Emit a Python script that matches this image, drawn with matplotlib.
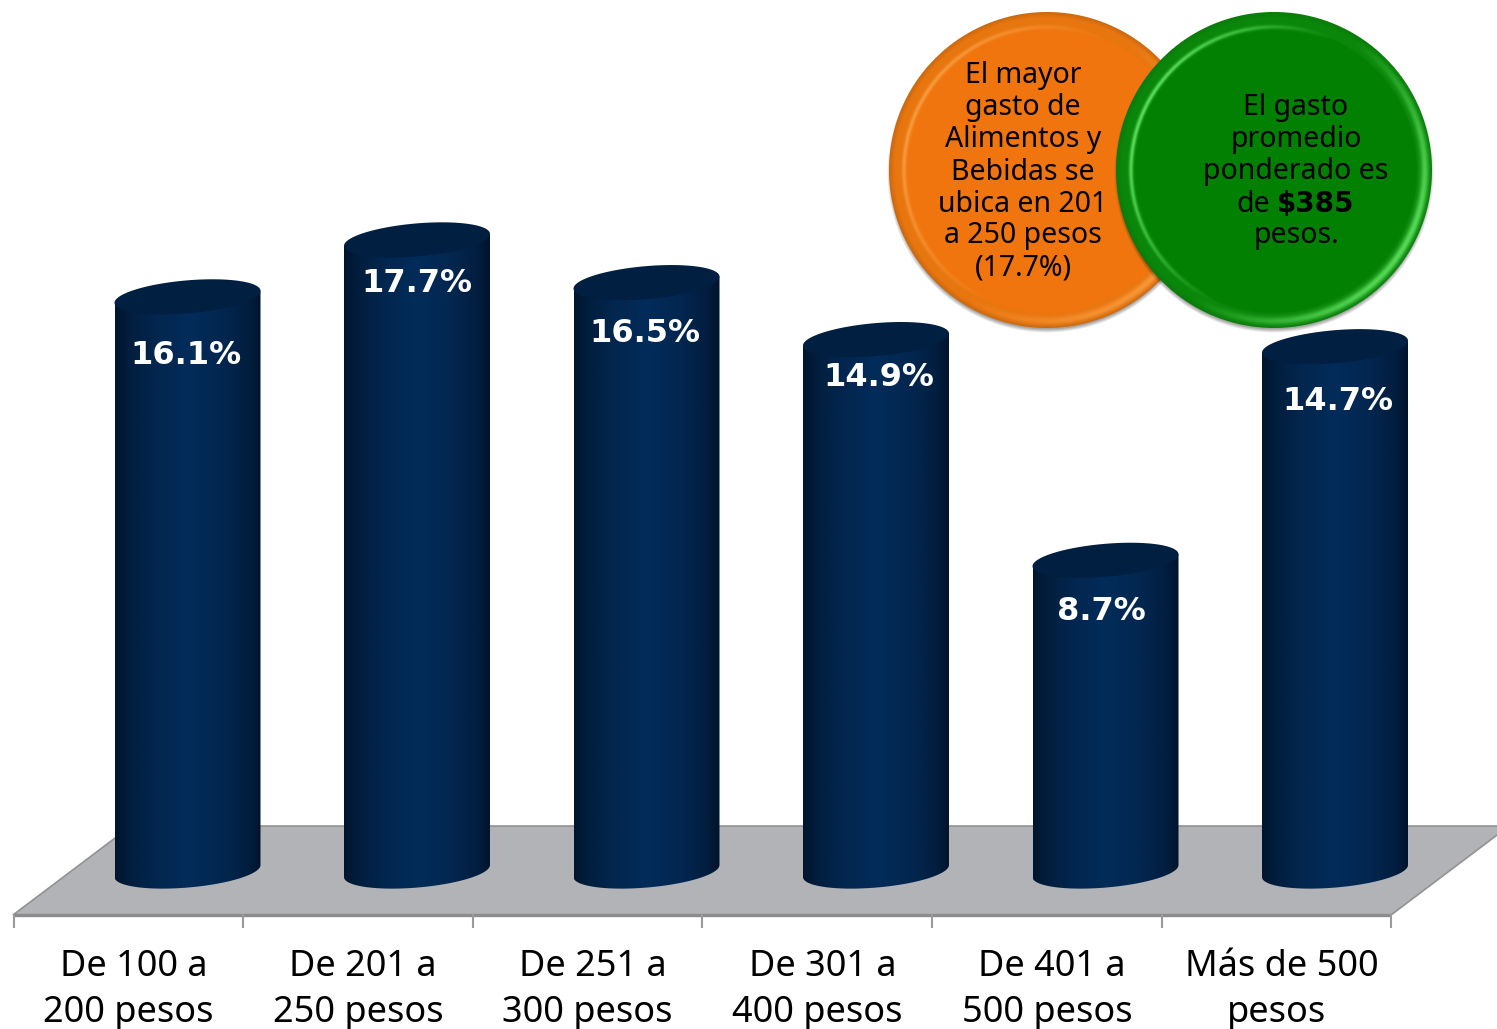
import numpy as np
import matplotlib
matplotlib.use('Agg')
import matplotlib.pyplot as plt
from matplotlib.colors import LinearSegmentedColormap
from matplotlib.patches import Polygon, PathPatch
from matplotlib.path import Path

cats1  = ['De 100 a', 'De 201 a', 'De 251 a', 'De 301 a', 'De 401 a', 'Más de 500']
cats2  = ['200 pesos', '250 pesos', '300 pesos', '400 pesos', '500 pesos', 'pesos']
values = [16.1, 17.7, 16.5, 14.9, 8.7, 14.7]
# where the value labels sit, in pixels
lab_x  = [186, 417, 645, 879, 1101, 1338]
lab_y  = [355, 283, 333, 377, 612, 402]

orange_txt = ['El mayor', 'gasto de', 'Alimentos y', 'Bebidas se', 'ubica en 201', 'a 250 pesos', '(17.7%)']
green_txt  = ['El gasto', 'promedio', 'ponderado es', None, 'pesos.']

W, H = 1497, 1029
FONT = 'Noto Sans'
x0, dx = 187.5, 229.5      # px of first bar, px per category
y0, dy = 870.0, 35.6       # px of value 0, px per percent
hw, sk, el = 73.0, 6.0, 16.5

fig = plt.figure(figsize=(W/100, H/100), dpi=100)
fig.patch.set_facecolor('white')

# background axes in pixels: floor, ticks, category labels
bg = fig.add_axes([0, 0, 1, 1], zorder=0)
bg.set_xlim(0, W); bg.set_ylim(H, 0); bg.axis('off')
bg.add_patch(Polygon([(13, 915), (131, 826), (1509, 826), (1391, 915)], closed=True,
                     facecolor='#b1b3b6', edgecolor='#929292', lw=1.2))
bg.plot([13, 1391], [915, 915], color='#8c8c8c', lw=2.4, solid_capstyle='butt')
for i in range(7):
    tx = 13.5 + i*229.6
    bg.plot([tx, tx], [915, 927], color='#9a9a9a', lw=1.5)
for i in range(6):
    mid = 128.5 + i*229.6
    bg.text(mid+5, 967, cats1[i], ha='center', va='center', fontsize=26, family=FONT, color='black')
    bg.text(mid, 1013, cats2[i], ha='center', va='center', fontsize=26, family=FONT, color='black')

# the bars, in category / percent units
ax = fig.add_axes([0, 0, 1, 1], zorder=1)
ax.set_xlim(-x0/dx, (W-x0)/dx)
ax.set_ylim((y0-H)/dy, y0/dy)
ax.axis('off')
ax.patch.set_alpha(0)

cyl = LinearSegmentedColormap.from_list('cyl', [(0, '#00152d'), (0.1, '#021e3e'), (0.27, '#02264e'),
                                                (0.5, '#032c5a'), (0.75, '#02264f'), (0.92, '#021d3e'),
                                                (1, '#00142c')])
grad = np.linspace(0, 1, 256).reshape(1, -1)
t = np.linspace(0, 2*np.pi, 181)

def ring(i, v, tt):
    # tilted ellipse of a bar end, px offsets turned into data units
    xx = i + hw*np.cos(tt)/dx
    yy = v + (el*np.sin(tt) + sk*np.cos(tt))/dy
    return xx, yy

for i, v in enumerate(values):
    low = np.linspace(np.pi, 2*np.pi, 90)
    bx, by = ring(i, -0.03, low)
    tx, ty = ring(i, v, np.array([0.0, np.pi]))
    verts = np.column_stack([np.r_[bx, tx], np.r_[by, ty]])
    body = PathPatch(Path(np.vstack([verts, verts[0]]), closed=True), fc='none', ec='none')
    ax.add_patch(body)
    im = ax.imshow(grad, cmap=cyl, aspect='auto', interpolation='bilinear',
                   extent=[i-hw/dx, i+hw/dx, -1, v+1], zorder=2)
    im.set_clip_path(body)
    ex, ey = ring(i, v, t)
    ax.fill(ex, ey, color='#011f40', lw=0, zorder=3)
ax.set_xlim(-x0/dx, (W-x0)/dx)
ax.set_ylim((y0-H)/dy, y0/dy)

# top axes in pixels: value labels and the two discs
top = fig.add_axes([0, 0, 1, 1], zorder=2)
top.set_xlim(0, W); top.set_ylim(H, 0); top.axis('off')
top.patch.set_alpha(0)
for i, v in enumerate(values):
    top.text(lab_x[i], lab_y[i], '%.1f%%' % v, ha='center', va='center', color='white',
             fontsize=23, fontweight='bold', family='DejaVu Sans')

def disc(cx, cy, R, base, edge, rim, hi, z):
    n = 2*int(R+12)
    yy, xx = np.mgrid[-n/2:n/2, -n/2:n/2] + 0.5
    r = np.hypot(xx, yy)/R
    th = np.arctan2(yy, xx)
    base, edge, rim, hi = [np.array(matplotlib.colors.to_rgb(c)) for c in (base, edge, rim, hi)]
    img = np.ones(r.shape + (4,))
    img[..., :3] = base
    f = np.clip((r-0.9)/0.012, 0, 1)[..., None]
    img[..., :3] = img[..., :3]*(1-f) + rim*f
    f = np.clip((r-0.965)/0.035, 0, 1)[..., None]
    img[..., :3] = img[..., :3]*(1-f) + edge*f
    # bevel highlights: inner line on the left, outer band on the right and below
    a = np.exp(-((r-0.905)/0.014)**2)*np.clip(-np.cos(th)*0.9 - np.sin(th)*0.4, 0, 1)
    b = np.exp(-((r-0.955)/0.025)**2)*np.clip(np.cos(th)*0.8 + np.sin(th)*0.5, 0, 1)
    f = np.clip(a+b, 0, 1)[..., None]
    img[..., :3] = img[..., :3]*(1-f) + hi*f
    img[..., 3] = np.clip((1-r)*R + 0.5, 0, 1)
    # soft shadow
    sr = np.hypot(xx, yy-3)/R
    sh = np.zeros_like(img)
    sh[..., 3] = np.clip((1.012-sr)/0.025, 0, 1)*0.35
    top.imshow(sh, extent=[cx-n/2, cx+n/2, cy+n/2, cy-n/2], zorder=z-0.5, interpolation='bilinear', aspect='auto')
    top.imshow(img, extent=[cx-n/2, cx+n/2, cy+n/2, cy-n/2], zorder=z, interpolation='bilinear', aspect='auto')

disc(1047, 170, 158, '#f0750e', '#c9680f', '#e8760f', '#f89a3c', 5)
disc(1274, 170, 158, '#028002', '#0a7a0a', '#0a860a', '#5ade5a', 6)
top.set_xlim(0, W); top.set_ylim(H, 0)

for k, s in enumerate(orange_txt):
    top.text(1023, 76+32*k, s, ha='center', va='center', fontsize=20.5, family=FONT, color='black', zorder=7)
for k, s in enumerate(green_txt):
    if s:
        top.text(1296, 108+32*k, s, ha='center', va='center', fontsize=20.5, family=FONT, color='black', zorder=7)
top.text(1253, 204, 'de', ha='center', va='center', fontsize=20.5, family=FONT, color='black', zorder=7)
top.text(1316, 204, r'\$385', ha='center', va='center', fontsize=20, fontweight='bold', family='DejaVu Sans', color='black', zorder=7)

plt.savefig('out.png', dpi=100)
